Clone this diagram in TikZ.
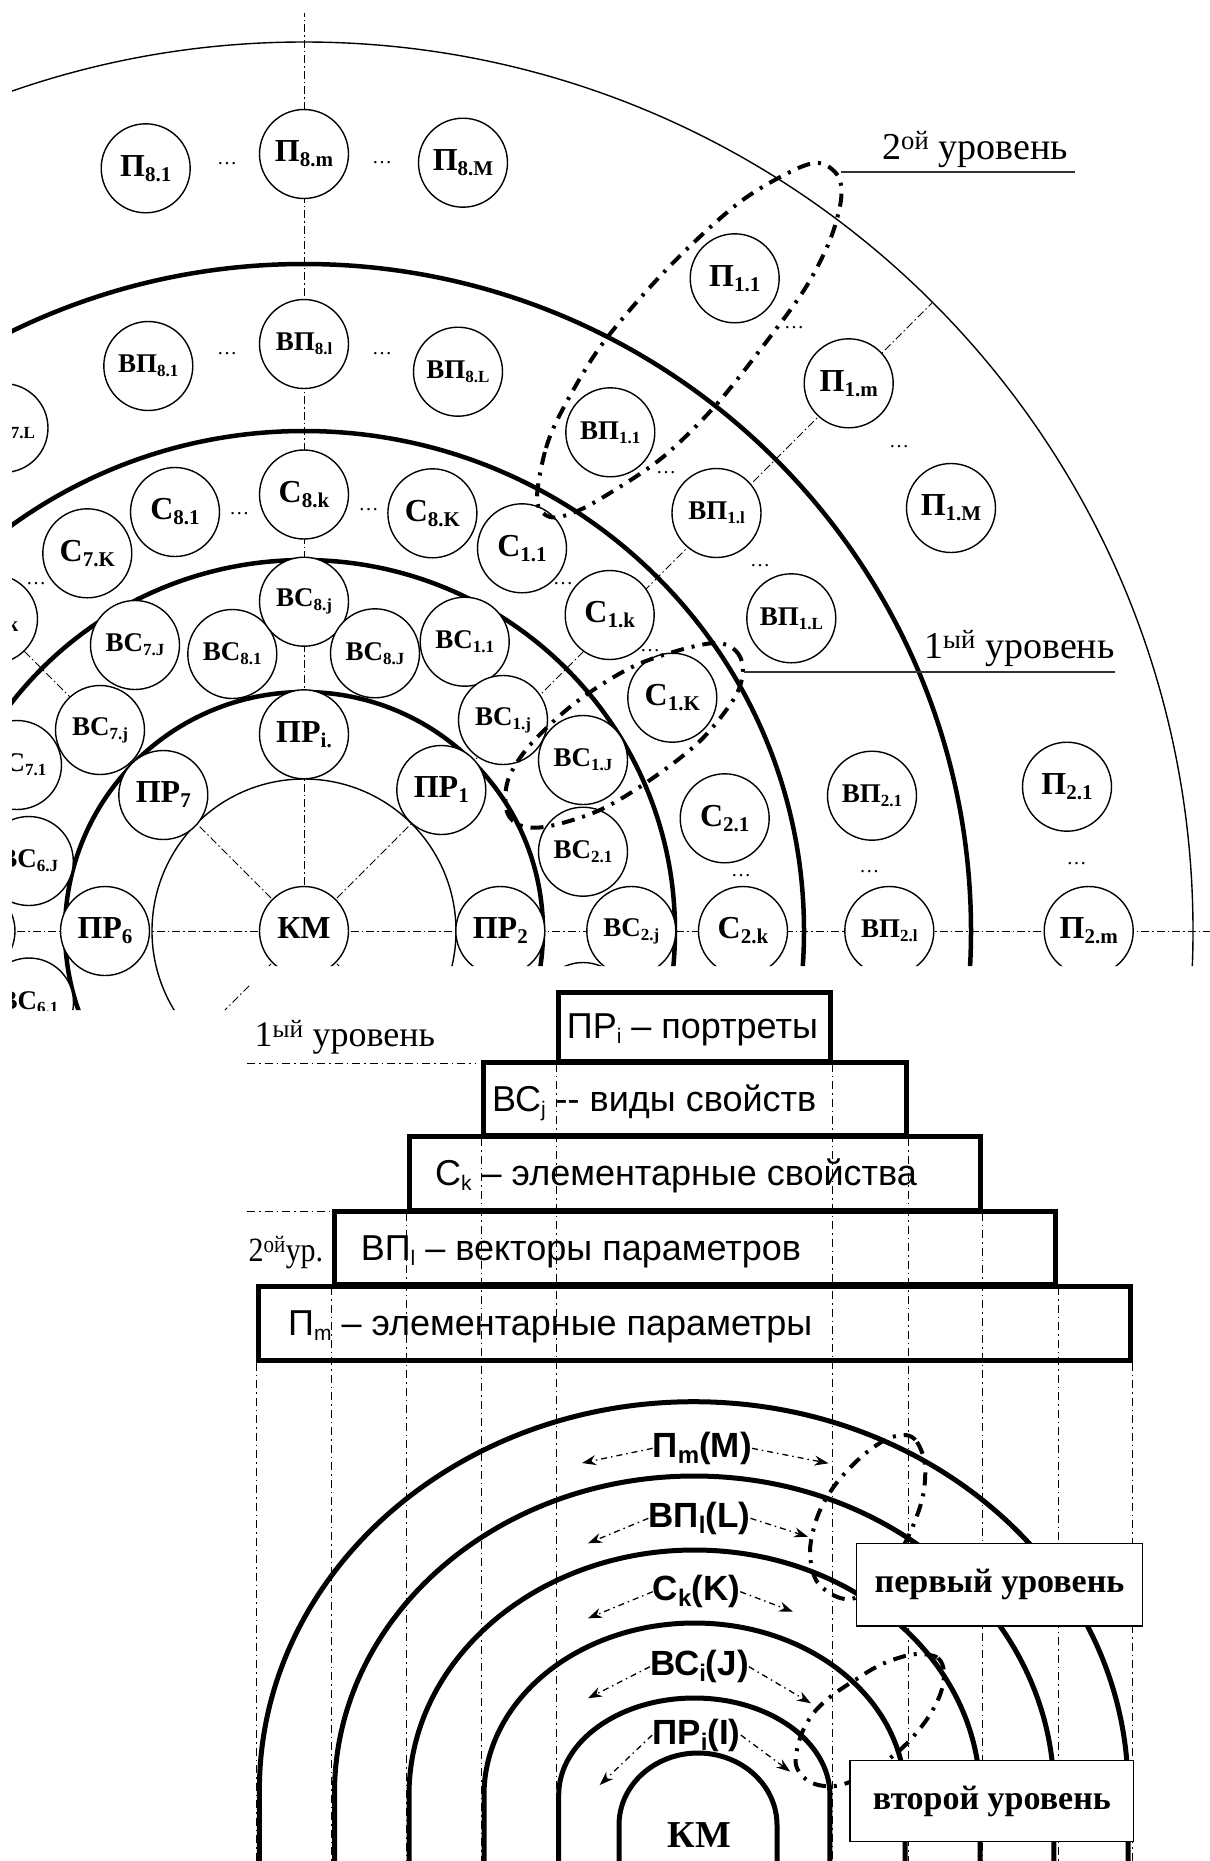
\documentclass[tikz,border=0pt]{standalone}
\usepackage{fontspec}
\usepackage{graphicx}
\setmainfont{Liberation Serif}
\newfontfamily\arialf{Liberation Sans}
\usetikzlibrary{arrows.meta}

\newcommand\BL[2]{{\bfseries\fontsize{32}{32}\selectfont #1\raisebox{-5pt}{\fontsize{21}{21}\selectfont #2}}}
\newcommand\SL[2]{{\bfseries\fontsize{27}{27}\selectfont #1\raisebox{-4pt}{\fontsize{17}{17}\selectfont #2}}}
\newcommand\SA[1]{\raisebox{-5pt}{\fontsize{21}{21}\selectfont #1}}
\newcommand\BA[3]{{\arialf\bfseries\fontsize{35}{35}\selectfont #1\raisebox{-6pt}{\fontsize{24}{24}\selectfont #2}#3}}

\tikzset{
 axisl/.style={line width=1pt, dash pattern=on 8pt off 3pt on 1.5pt off 3pt},
 ringthin/.style={line width=1.4pt},
 ringthick/.style={line width=4.5pt},
 elem/.style={circle, draw, line width=1.4pt, fill=white, minimum size=89pt, inner sep=0pt},
 dots/.style={inner sep=0pt, font=\fontsize{20}{20}\selectfont},
 outline/.style={line width=4pt, dash pattern=on 13pt off 8pt on 3pt off 8pt},
 lvl/.style={inner sep=0pt, anchor=base west, font=\fontsize{38}{38}\selectfont},
 uline/.style={line width=1.5pt, draw=black!80},
 pbox/.style={draw, line width=5pt, inner sep=0pt},
 ptext/.style={inner sep=0pt, anchor=base west, font=\arialf\fontsize{36}{36}\selectfont},
 vline/.style={line width=1pt, dash pattern=on 8pt off 4pt on 1.5pt off 4pt},
 ringb/.style={line width=5pt},
 darr/.style={line width=1.3pt, dash pattern=on 6pt off 4pt on 1.5pt off 4pt, -{Stealth[length=14pt,width=10pt]}},
 blab/.style={inner sep=0pt},
 lbox/.style={draw, line width=1.5pt, fill=white, inner sep=0pt, font=\bfseries\fontsize{34}{34}\selectfont},
}

\begin{document}
\begin{tikzpicture}[x=1pt,y=-1pt]
\useasboundingbox (0,0) rectangle (1210,1861);
\fill[white] (0,0) rectangle (1210,1861);
\coordinate (C) at (304,931);
\coordinate (bot) at (0,1861);

% ================= TOP FIGURE =================
\begin{scope}
\clip (12,0) -- (1210,0) -- (1210,966) -- (250,966) -- (250,1010) -- (12,1010) -- cycle;
\draw[axisl] (C) -- (304,13);
\draw[axisl] (C) -- (1210,931);
\draw[axisl] (C) -- (0,931);
\draw[axisl] (C) -- (932.6,302.4);
\draw[axisl] (C) -- (-324.6,302.4);
\draw[axisl] (C) -- (-400,1635);
\draw[axisl] (C) -- (604,1231);
\draw[ringthin] (C) circle[radius=152];
\draw[ringthick] (C) circle[radius=239];
\draw[ringthick] (C) circle[radius=371];
\draw[ringthick] (C) circle[radius=500];
\draw[ringthick] (C) circle[radius=667];
\draw[ringthin] (C) circle[radius=889];

% core and portraits
\node[elem] (km) at (C) {\BL{КМ}{}};
\node[elem] (pr8) at (304,734.3) {\BL{ПР}{i.}};
\node[elem] (pr1) at (441.3,790) {\BL{ПР}{1}};
\node[elem] (pr2) at (500.3,931) {\BL{ПР}{2}};
\node[elem] (pr6) at (105,931) {\BL{ПР}{6}};
\node[elem] (pr7) at (163.3,795) {\BL{ПР}{7}};

% kinds of properties
\node[elem] (vc81) at (232.3,654) {\SL{ВС}{8.1}};
\node[elem] (vc8j) at (304,601.7) {\SL{ВС}{8.j}};
\node[elem] (vc8J) at (375,653.3) {\SL{ВС}{8.J}};
\node[elem] (vc7J) at (135,645) {\SL{ВС}{7.J}};
\node[elem] (vc7j) at (100,730) {\SL{ВС}{7.j}};
\node[elem] (vc71) at (17,765) {\SL{ВС}{7.1}};
\node[elem] (vc6J) at (28.8,861) {\SL{ВС}{6.J}};
\node[elem] (vc6j) at (-29.5,931) {\SL{ВС}{6.j}};
\node[elem] (vc61) at (29,1002.5) {\SL{ВС}{6.1}};
\node[elem] (vc11) at (464.7,641.7) {\SL{ВС}{1.1}};
\node[elem] (vc1j) at (503,720) {\SL{ВС}{1.j}};
\node[elem] (vc1J) at (583,760) {\SL{ВС}{1.J}};
\node[elem] (vc21) at (583,851.7) {\SL{ВС}{2.1}};
\node[elem] (vc2j) at (631.3,931) {\SL{ВС}{2.j}};
\node[elem] (vc2J) at (583,1007) {};

% elementary properties
\node[elem] (c81) at (175,512) {\BL{С}{8.1}};
\node[elem] (c8k) at (304,494.5) {\BL{С}{8.k}};
\node[elem] (c8K) at (432.4,513.3) {\BL{С}{8.K}};
\node[elem] (c7K) at (87.3,553.3) {\BL{С}{7.K}};
\node[elem] (c7k) at (-7,619) {\BL{С}{7.k}};
\node[elem] (c11) at (522,548.3) {\BL{С}{1.1}};
\node[elem] (c1k) at (609.7,615) {\BL{С}{1.k}};
\node[elem] (c1K) at (672.3,697.7) {\BL{С}{1.K}};
\node[elem] (c21) at (724.7,818.3) {\BL{С}{2.1}};
\node[elem] (c2k) at (743,931) {\BL{С}{2.k}};

% parameter vectors
\node[elem] (v81) at (148.3,366) {\SL{ВП}{8.1}};
\node[elem] (v8l) at (304,344) {\SL{ВП}{8.l}};
\node[elem] (v8L) at (458,371.7) {\SL{ВП}{8.L}};
\node[elem] (v7L) at (3.5,428) {\SL{ВП}{7.L}};
\node[elem] (v11) at (610.3,432.3) {\SL{ВП}{1.1}};
\node[elem] (v1l) at (716.5,513) {\SL{ВП}{1.l}};
\node[elem] (v1L) at (791.3,618.3) {\SL{ВП}{1.L}};
\node[elem] (v21) at (872,795.7) {\SL{ВП}{2.1}};
\node[elem] (v2l) at (889.3,931) {\SL{ВП}{2.l}};

% parameters
\node[elem] (p81) at (145.7,168.3) {\BL{П}{8.1}};
\node[elem] (p8m) at (304,154) {\BL{П}{8.m}};
\node[elem] (p8M) at (463,162.7) {\BL{П}{8.M}};
\node[elem] (p11) at (734.7,278.3) {\BL{П}{1.1}};
\node[elem] (p1m) at (848.7,383.3) {\BL{П}{1.m}};
\node[elem] (p1M) at (951,508) {\BL{П}{1.M}};
\node[elem] (p21) at (1067,786.7) {\BL{П}{2.1}};
\node[elem] (p2m) at (1088.7,931) {\BL{П}{2.m}};

% ellipses
\node[dots] (d1) at (227,164) {…};
\node[dots] (d2) at (382,163) {…};
\node[dots] (d3) at (227,354) {…};
\node[dots] (d4) at (382,354) {…};
\node[dots] (d5) at (239.4,513.3) {…};
\node[dots] (d6) at (368.7,509.3) {…};
\node[dots] (d7) at (36,584) {…};
\node[dots] (d8) at (563,584) {…};
\node[dots] (d9) at (650,651) {…};
\node[dots] (d10) at (666,473) {…};
\node[dots] (d11) at (760,566) {…};
\node[dots] (d12) at (794,328) {…};
\node[dots] (d13) at (899,447) {…};
\node[dots] (d14) at (741,876) {…};
\node[dots] (d15) at (869.3,871.7) {…};
\node[dots] (d16) at (1076.7,863.3) {…};

% level outlines
\draw[outline] plot[smooth cycle, tension=0.55] coordinates {(537,500) (546,448) (565,405) (603,343) (666,270) (736,205) (790,172) (819,163) (838,176) (841,200) (830,240) (806,287) (770,337) (716,405) (663,457) (610,493) (575,512) (550,517)};
\draw[outline] plot[smooth cycle, tension=0.55] coordinates {(716,643) (735,650) (743,668) (735,697) (700,741) (650,780) (600,810) (550,826) (522,826) (507,812) (508,780) (530,745) (575,703) (630,668) (680,650)};
\end{scope}

% level captions of top figure
\node[lvl] (l2) at (882,159) {2\textsuperscript{ой} уровень};
\coordinate (l2a) at (841,172);
\coordinate (l2b) at (1075,172);
\draw[uline] (l2a) -- (l2b);
\node[lvl] (l1) at (924,658) {1\textsuperscript{ый} уровень};
\coordinate (l1a) at (744,672);
\coordinate (l1b) at (1115,672);
\draw[uline] (l1a) -- (l1b);

% ================= PYRAMID =================
\node[pbox, minimum width=271.5, minimum height=69] (b1) at (694.5,1026.5) {};
\node[pbox, minimum width=422.4, minimum height=73] (b2) at (694.8,1099.2) {};
\node[pbox, minimum width=571, minimum height=73.3] (b3) at (694.5,1173.4) {};
\node[pbox, minimum width=721.3, minimum height=73.3] (b4) at (695.1,1248.3) {};
\node[pbox, minimum width=871.2, minimum height=74] (b5) at (694.4,1323) {};
\node[ptext] (t1) at (566.7,1038.3) {ПР\SA{i} – портреты};
\node[ptext] (t2) at (492,1111.7) {ВС\SA{j} -{}- виды свойств};
\node[ptext] (t3) at (435,1185) {С\SA{k} – элементарные свойства};
\node[ptext] (t4) at (360.6,1260) {ВП\SA{l} – векторы параметров};
\node[ptext] (t5) at (288,1335) {П\SA{m} – элементарные параметры};

\foreach \b in {b1,b2,b3,b4,b5}{
  \draw[vline] (\b.south west) -- (\b.south west |- bot);
  \draw[vline] (\b.south east) -- (\b.south east |- bot);
}

\node[lvl, font=\fontsize{36}{36}\selectfont] (ll1) at (254.5,1046.7) {1\textsuperscript{ый} уровень};
\coordinate (ll1a) at (247,1063);
\coordinate (ll1b) at (476,1063);
\draw[vline] (ll1a) -- (ll1b);
\node[lvl, font=\fontsize{34}{34}\selectfont] (ll2) at (248.5,1261.7) {\scalebox{0.88}[1]{2\textsuperscript{ой}ур.}};
\coordinate (ll2a) at (247,1211.7);
\coordinate (ll2b) at (330,1211.7);
\draw[vline] (ll2a) -- (ll2b);

% ================= BOTTOM FIGURE =================
\draw[ringb] (259.4,1861) -- (259.4,1790) arc[start angle=180, end angle=360, x radius=434.3, y radius=388.3] -- (1128,1861);
\draw[ringb] (334.5,1861) -- (334.5,1793) arc[start angle=180, end angle=360, x radius=359.7, y radius=317] -- (1053.9,1861);
\draw[ringb] (409,1861) -- (409,1795) arc[start angle=180, end angle=360, x radius=285.5, y radius=245] -- (980,1861);
\draw[ringb] (484,1861) -- (484,1795) arc[start angle=180, end angle=360, x radius=210.5, y radius=172] -- (905,1861);
\draw[ringb] (558.7,1861) -- (558.7,1795) arc[start angle=180, end angle=360, x radius=135.6, y radius=97] -- (829.9,1861);
\draw[ringb] (619,1861) -- (619,1825) arc[start angle=180, end angle=360, x radius=79, y radius=72] -- (777,1861);

\node[blab] (lpm) at (702.3,1448.3) {\BA{П}{m}{(M)}};
\node[blab] (lvp) at (699.4,1518.3) {\BA{ВП}{l}{(L)}};
\node[blab] (lck) at (696.5,1591.7) {\BA{С}{k}{(K)}};
\node[blab] (lvc) at (699.4,1666.7) {\BA{ВС}{i}{(J)}};
\node[blab] (lpr) at (696.5,1735) {\BA{ПР}{i}{(I)}};
\node[blab, font=\bfseries\fontsize{38}{38}\selectfont] (kmb) at (699.4,1835) {КМ};

\coordinate (pmL) at (582,1463);   \coordinate (pmR) at (828.5,1463.3);
\coordinate (vpL) at (588,1543.3); \coordinate (vpR) at (808,1536.7);
\coordinate (ckL) at (588,1618.3); \coordinate (ckR) at (793,1611.7);
\coordinate (vcL) at (588,1698.3); \coordinate (vcR) at (811,1703.3);
\coordinate (prL) at (599.7,1785); \coordinate (prR) at (790.3,1771.7);
\draw[darr] (lpm.west) -- (pmL); \draw[darr] (lpm.east) -- (pmR);
\draw[darr] (lvp.west) -- (vpL); \draw[darr] (lvp.east) -- (vpR);
\draw[darr] (lck.west) -- (ckL); \draw[darr] (lck.east) -- (ckR);
\draw[darr] (lvc.west) -- (vcL); \draw[darr] (lvc.east) -- (vcR);
\draw[darr] (lpr.west) -- (prL); \draw[darr] (lpr.east) -- (prR);

\draw[outline] plot[smooth cycle, tension=0.55] coordinates {(905,1435) (917,1442) (925,1465) (922,1500) (905,1543) (880,1578) (855,1598) (835,1596) (816,1580) (810,1550) (818,1515) (835,1485) (860,1458) (885,1440)};
\draw[outline] plot[smooth cycle, tension=0.55] coordinates {(922,1654) (938,1658) (944,1672) (940,1695) (925,1722) (900,1750) (865,1775) (835,1786) (810,1782) (796,1765) (800,1738) (812,1715) (830,1697) (855,1680) (880,1665) (905,1656)};

\node[lbox, minimum width=285.7, minimum height=82.7] (first) at (999.5,1584.7) {первый уровень};
\node[lbox, minimum width=283.4, minimum height=81] (second) at (991.9,1801.2) {второй уровень};
\end{tikzpicture}
\end{document}
